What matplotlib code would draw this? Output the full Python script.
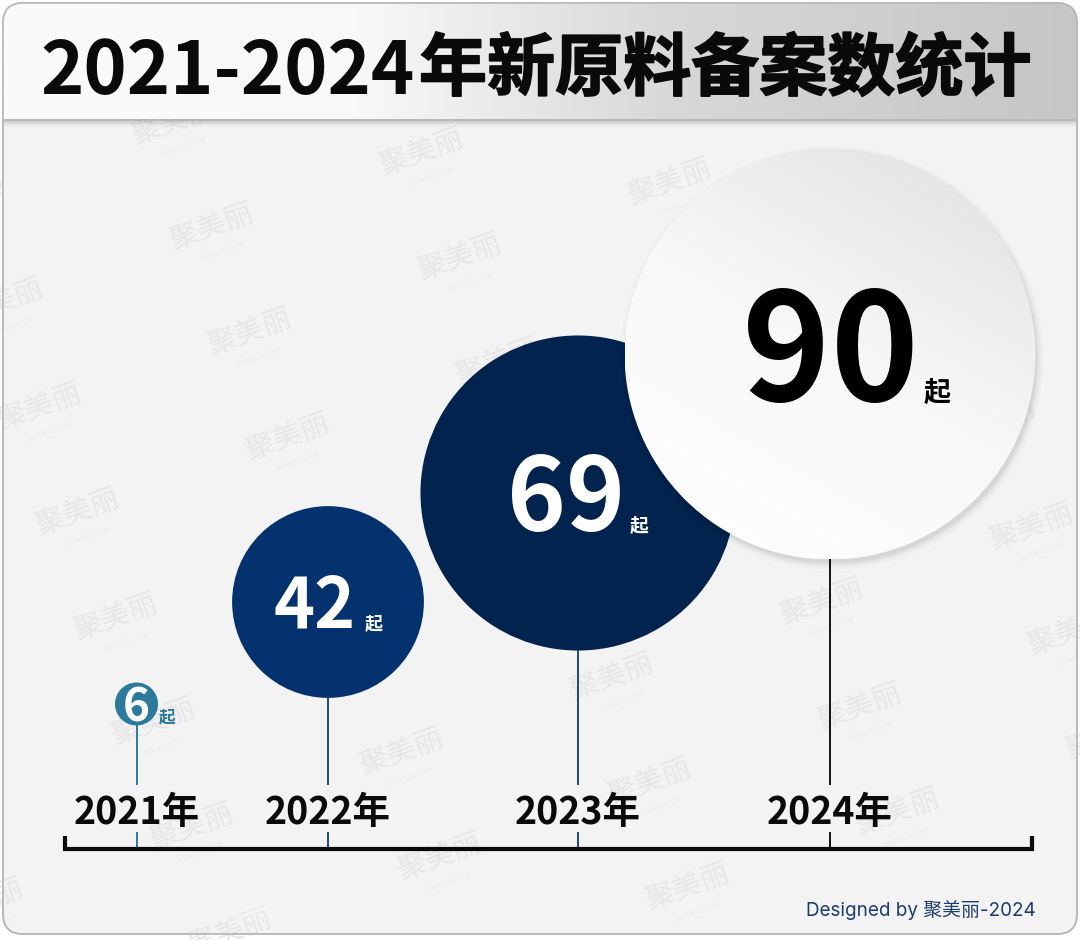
import numpy as np
import matplotlib
matplotlib.use("Agg")
import matplotlib.pyplot as plt
import matplotlib.patheffects as pe
from matplotlib.patches import Circle, FancyBboxPatch, Rectangle
from matplotlib.colors import LinearSegmentedColormap

plt.rcParams['font.family'] = ['Noto Sans CJK SC', 'DejaVu Sans']

# Data
years = ["2021年", "2022年", "2023年", "2024年"]
counts = [6, 42, 69, 90]
title_years = "2021-2024"
title_rest = "年新原料备案数统计"
unit = "起"
credit = "Designed by 聚美丽-2024"

# Layout, in pixels of the 1080x940 canvas
year_x = [136.5, 328, 578, 830]
center_y = [704, 602, 493, 354]
px_per_count = 2.283
min_radius = 21.5
bubble_colors = ["#2b7a9b", "#03326f", "#02234d", None]
stem_colors = ["#2b7a9b", "#1d4a78", "#1d4a78", "#111111"]
num_sizes = [33, 50, 72, 108]
unit_sizes = [12, 13, 13.5, 19.5]
# number centre x / baseline and unit centre x / baseline, relative to the bubble centre
num_offset = [(0, 18), (-13, 26), (-12, 38), (0, 47)]
unit_offset = [(31, 18), (46, 27), (61, 38), (107, 48)]
num_colors = ["white", "white", "white", "black"]
unit_colors = ["#2b7a9b", "white", "white", "black"]
axis_y = 849

fig = plt.figure(figsize=(10.8, 9.4), dpi=100, facecolor="white")
ax = fig.add_axes([0, 0, 1, 1])
ax.set_xlim(0, 1080)
ax.set_ylim(940, 0)
ax.axis("off")


def gradient_image(clip, extent, cmap, angle=0.0, zorder=2):
    """Linear gradient filling extent, clipped to a patch."""
    xx, yy = np.meshgrid(np.linspace(0, 1, 256), np.linspace(0, 1, 256))
    t = np.cos(angle) * xx + np.sin(angle) * yy
    t = (t - t.min()) / (t.max() - t.min())
    im = ax.imshow(t, extent=extent, cmap=cmap, origin="upper", zorder=zorder,
                   aspect="auto", vmin=0, vmax=1, interpolation="bilinear")
    im.set_clip_path(clip)
    ax.set_xlim(0, 1080)
    ax.set_ylim(940, 0)
    return im


# Card
card = FancyBboxPatch((3, 3), 1074, 931, boxstyle="round,pad=0,rounding_size=20",
                      fc="#f3f3f3", ec="#b9b9b9", lw=1.2, zorder=1)
ax.add_patch(card)

# Watermarks
a = np.array([210, -75])
b = np.array([38, 105])
origin = np.array([250, 333])
for i in range(-3, 6):
    for j in range(-4, 7):
        wx, wy = origin + i * a + j * b
        if -40 < wx < 1120 and 120 < wy < 950:
            ax.text(wx, wy, "聚美丽", fontsize=21, color="#e7e7e7", rotation=20,
                    ha="center", va="center", zorder=1.5, clip_on=True, clip_path=card)
            ax.text(wx + 9, wy + 24, "J U M E I L I . C N", fontsize=4.5, color="#e9e9e9",
                    rotation=20, ha="center", va="center", zorder=1.5, clip_on=True, clip_path=card)

# Faint smudge bottom left
ax.add_patch(FancyBboxPatch((62, 899), 212, 24, boxstyle="round,pad=0,rounding_size=8",
                            fc="white", ec="none", alpha=0.15, zorder=1.6))

# Title banner with shadow
for k, al in zip([8, 6, 4, 2], [0.025, 0.04, 0.07, 0.12]):
    ax.add_patch(Rectangle((4, 119), 1072, k, fc="black", ec="none", alpha=al, zorder=2))
banner_cmap = LinearSegmentedColormap.from_list(
    "banner", [(0, "#fbfbfb"), (0.33, "#f8f8f8"), (0.62, "#d8d8d8"), (1, "#c6c6c6")])
gradient_image(card, (3, 1077, 119, 3), banner_cmap, zorder=3)
ax.add_patch(FancyBboxPatch((3, 3), 1074, 931, boxstyle="round,pad=0,rounding_size=20",
                            fc="none", ec="#b9b9b9", lw=1.2, zorder=3.5))
ax.text(40, 94, title_years, fontsize=53, fontweight="bold", color="#0a0a0a",
        ha="left", va="baseline", zorder=4)
ax.text(1031, 90, title_rest, fontsize=49, fontweight="bold", color="#0a0a0a",
        ha="right", va="baseline", zorder=4,
        path_effects=[pe.withStroke(linewidth=1.2, foreground="#0a0a0a")])

# Base axis
ax.plot([65, 65, 1032, 1032], [836, axis_y, axis_y, 836], color="#0a0a0a", lw=3,
        solid_joinstyle="miter", solid_capstyle="butt", zorder=3)

# Stems, bubbles and labels
radii = [max(c * px_per_count, min_radius) for c in counts]
for i, (x, cy, r) in enumerate(zip(year_x, center_y, radii)):
    ax.plot([x, x], [cy + r, 784], color=stem_colors[i], lw=1.4, zorder=2)
    ax.plot([x, x], [833, axis_y], color=stem_colors[i], lw=1.4, zorder=2)
    ax.text(x, 824, years[i], fontsize=27, fontweight="bold", color="#0a0a0a",
            ha="center", va="baseline", zorder=4)

for i, (x, cy, r) in enumerate(zip(year_x, center_y, radii)):
    if bubble_colors[i] is not None:
        ax.add_patch(Circle((x, cy), r, fc=bubble_colors[i], ec="none", zorder=5 + i))
    else:
        # shadow then gradient disc
        for grow, al in zip([6, 4, 2, 0], [0.015, 0.02, 0.03, 0.05]):
            ax.add_patch(Circle((x + 2, cy + 4), r + grow, fc="black", ec="none",
                                alpha=al, zorder=5 + i))
        disc = Circle((x, cy), r, fc="none", ec="none", zorder=5.5 + i)
        ax.add_patch(disc)
        disc_cmap = LinearSegmentedColormap.from_list("disc", ["#ffffff", "#f8f8f8", "#dfdfdf"])
        gradient_image(disc, (x - r, x + r, cy + r, cy - r), disc_cmap,
                       angle=-np.pi / 3, zorder=5.5 + i)
    nx, ny = num_offset[i]
    ax.text(x + nx, cy + ny, str(counts[i]), fontsize=num_sizes[i], fontweight="bold",
            color=num_colors[i], ha="center", va="baseline", zorder=12)
    ux, uy = unit_offset[i]
    ax.text(x + ux, cy + uy, unit, fontsize=unit_sizes[i], fontweight="bold",
            color=unit_colors[i], ha="center", va="baseline", zorder=12)

ax.text(1036, 916, credit, fontsize=13.6, color="#1c3d70", ha="right", va="baseline",
        family=["Inter", "Noto Sans CJK SC"], zorder=4)

fig.savefig("out.png", dpi=100)
